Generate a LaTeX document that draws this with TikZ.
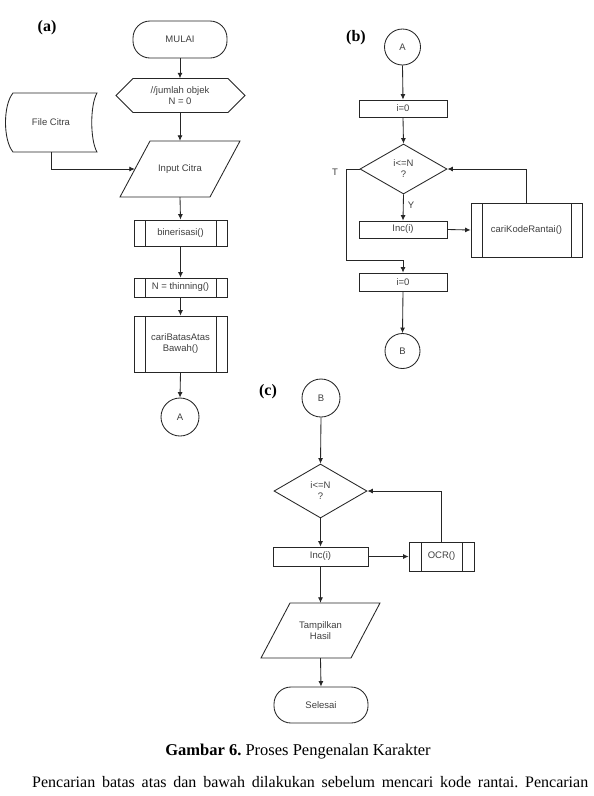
\documentclass[tikz,border=0pt]{standalone}
\usepackage{fontspec}
\setmainfont{Liberation Serif}
\setsansfont{Liberation Sans}
\usetikzlibrary{arrows.meta,shapes.geometric}
\frenchspacing
\begin{document}
\begin{tikzpicture}[x=1pt,y=-1pt,
  ln/.style={draw=black!85,line width=0.85pt},
  arr/.style={ln,-{Latex[length=5.5pt,width=5pt]}},
  lbl/.style={font=\sffamily\fontsize{9.5}{11}\selectfont,text=black!75,align=center,inner sep=0pt},
  box/.style={lbl,ln,rectangle,minimum width=88pt,minimum height=17pt},
  term/.style={lbl,ln,rectangle,rounded corners=17pt,minimum width=94pt,minimum height=36pt},
  ghost/.style={lbl,draw=none,rectangle},
  conn/.style={lbl,ln,circle,inner sep=0pt},
  dia/.style={lbl,ln,diamond,inner sep=0pt},
  proc/.style={lbl,ln,rectangle,path picture={
     \draw[black!85,line width=0.85pt] ([xshift=#1]path picture bounding box.north west) -- ([xshift=#1]path picture bounding box.south west);
     \draw[black!85,line width=0.85pt] ([xshift=-#1]path picture bounding box.north east) -- ([xshift=-#1]path picture bounding box.south east);}},
  proc/.default=11pt,
  tag/.style={font=\fontsize{16}{18}\selectfont\bfseries,inner sep=0pt}
]
\useasboundingbox[fill=white] (0,0) rectangle (594,796);

% ---------------- (a)
\node[tag] (ta) at (47,28) {(a)};
\node[term,minimum height=37pt] (mulai) at (180,39.5) {MULAI};
\node[ghost,minimum width=129pt,minimum height=34pt] (hex) at (180,95.5) {//jumlah objek\\N = 0};
\draw[ln] (116,95.5) -- (133,78.5) -- (228,78.5) -- (245,95.5) -- (228,112.5) -- (133,112.5) -- cycle;
\node[ghost,minimum width=92pt,minimum height=59pt] (file) at (51,122.5) {File Citra};
\draw[ln] (13,93) -- (97,93) .. controls (90,105) and (90,140) .. (97,152) -- (13,152) .. controls (3,140) and (3,105) .. (13,93) -- cycle;
\node[ghost,minimum width=90pt,minimum height=56pt] (inp) at (180,169) {Input Citra};
\draw[ln] (150,141) -- (240,141) -- (210,197) -- (120,197) -- cycle;
\node[proc,minimum width=93pt,minimum height=26pt] (bin) at (180.5,233) {binerisasi()};
\node[proc,minimum width=93pt,minimum height=19pt] (thin) at (180.5,287.5) {N = thinning()};
\node[proc,minimum width=93pt,minimum height=56pt] (cari) at (180.5,344) {cariBatasAtas\\Bawah()};
\node[conn,minimum size=38pt] (ca) at (180,417) {A};

\draw[arr] (mulai.south) -- (hex.north);
\draw[arr] (hex.south) -- (inp.north);
\draw[arr] (file.south) |- (inp.west);
\draw[arr] (inp.south) -- (bin.north);
\draw[arr] (bin.south) -- (thin.north);
\draw[arr] (thin.south) -- (cari.north);
\draw[arr] (cari.south) -- (ca.north);

% ---------------- (b)
\node[tag] (tb) at (356,38) {(b)};
\node[conn,minimum size=36pt] (cab) at (402.5,47) {A};
\node[box] (i0a) at (403,108.5) {i=0};
\node[dia,minimum width=87pt,minimum height=50pt] (d1) at (403.5,169) {i<=N\\?};
\node[box] (inc1) at (403,229.5) {Inc(i)};
\node[proc,minimum width=111pt,minimum height=54pt] (ckr) at (526.5,230) {cariKodeRantai()};
\node[box,minimum height=18pt] (i0b) at (403,282) {i=0};
\node[conn,minimum size=35pt] (cb) at (402.5,351) {B};
\node[lbl] (lt) at (335,172) {T};
\node[lbl] (ly) at (411,205) {Y};
\coordinate (tl) at (346,260);

\draw[arr] (cab.south) -- (i0a.north);
\draw[arr] (i0a.south) -- (d1.north);
\draw[arr] (d1.south) -- (inc1.north);
\draw[arr] (inc1.east) -- (ckr.west);
\draw[arr] (ckr.north) |- (d1.east);
\draw[arr] (d1.west) -| (tl) -| (i0b.north);
\draw[arr] (i0b.south) -- (cb.north);

% ---------------- (c)
\node[tag] (tc) at (268,392) {(c)};
\node[conn,minimum size=38pt] (cbc) at (321,398) {B};
\node[dia,minimum width=93pt,minimum height=54pt] (d2) at (320.5,491) {i<=N\\?};
\node[box,minimum width=95pt,minimum height=19pt] (inc2) at (320.5,556.5) {Inc(i)};
\node[proc=12pt,minimum width=65pt,minimum height=29pt] (ocr) at (441.5,556.5) {OCR()};
\node[ghost,minimum width=90pt,minimum height=55pt] (tamp) at (320.5,630.5) {Tampilkan\\Hasil};
\draw[ln] (290,603) -- (380,603) -- (351,658) -- (261,658) -- cycle;
\node[term] (sel) at (321,705) {Selesai};

\draw[arr] (cbc.south) -- (d2.north);
\draw[arr] (d2.south) -- (inc2.north);
\draw[arr] (inc2.east) -- (ocr.west);
\draw[arr] (ocr.north) |- (d2.east);
\draw[arr] (inc2.south) -- (tamp.north);
\draw[arr] (tamp.south) -- (sel.north);

% ---------------- caption
\node[font=\fontsize{16.5}{19}\selectfont,inner sep=0pt] (cap) at (298,752) {\textbf{Gambar 6.} Proses Pengenalan Karakter};
\node[font=\fontsize{16}{19}\selectfont,inner sep=0pt,anchor=west] (body) at (32,782) {\makebox[556pt][s]{Pencarian batas atas dan bawah dilakukan sebelum mencari kode rantai. Pencarian}};
\end{tikzpicture}
\end{document}
